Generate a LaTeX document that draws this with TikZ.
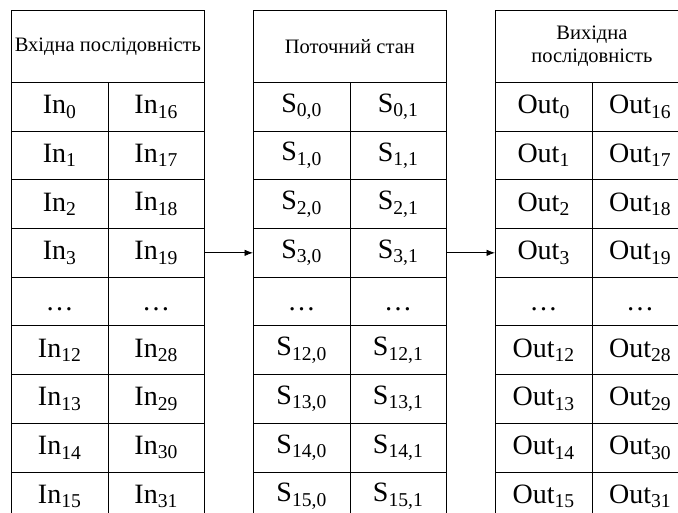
\documentclass[tikz,border=0pt]{standalone}
\usepackage{fontspec}
\setmainfont{Liberation Serif}
\usetikzlibrary{arrows.meta,positioning}

\newcommand{\insym}[1]{In\textsubscript{#1}}
\newcommand{\outsym}[1]{Out\textsubscript{#1}}
\newcommand{\stsym}[1]{S\textsubscript{#1}}
\newcommand{\skiprow}{\vphantom{I}\ldots}

\tikzset{
  head/.style={draw, anchor=north west, minimum width=193pt, minimum height=72pt,
    inner sep=0pt, align=center, font=\fontsize{20.5}{23}\selectfont},
  cell/.style={draw, anchor=north west, minimum width=96.5pt, minimum height=48.7pt,
    inner sep=0pt, font=\fontsize{28}{30}\selectfont},
}

\begin{document}
\begin{tikzpicture}[x=1pt,y=1pt,>={Latex[length=8.5pt,width=6.5pt]},line width=0.8pt]
  \useasboundingbox (0,0) rectangle (678,-513);
  \clip (0,0) rectangle (678,-513);
  % headers
  \node[head] (inhead) at (11,-10) {Вхідна послідовність};
  \node[head] (sthead) at (253,-10) {Поточний стан};
  \node[head] (outhead) at (495,-10) {Вихідна\\послідовність};
  % rows
  \foreach \r/\a/\b in {0/0/16,1/1/17,2/2/18,3/3/19,5/12/28,6/13/29,7/14/30,8/15/31}{
    \node[cell] (in-\r-0) at (11,-82-48.7*\r) {\insym{\a}};
    \node[cell] (in-\r-1) at (107.5,-82-48.7*\r) {\insym{\b}};
    \node[cell] (st-\r-0) at (253,-82-48.7*\r) {\stsym{\a,0}};
    \node[cell] (st-\r-1) at (349.5,-82-48.7*\r) {\stsym{\a,1}};
    \node[cell] (out-\r-0) at (495,-82-48.7*\r) {\outsym{\a}};
    \node[cell] (out-\r-1) at (591.5,-82-48.7*\r) {\outsym{\b}};
  }
  % skipped rows
  \node[cell] (in-4-0) at (11,-276.8) {\skiprow};
  \node[cell] (in-4-1) at (107.5,-276.8) {\skiprow};
  \node[cell] (st-4-0) at (253,-276.8) {\skiprow};
  \node[cell] (st-4-1) at (349.5,-276.8) {\skiprow};
  \node[cell] (out-4-0) at (495,-276.8) {\skiprow};
  \node[cell] (out-4-1) at (591.5,-276.8) {\skiprow};
  % flow
  \draw[->] (in-3-1.east) -- (st-3-0.west);
  \draw[->] (st-3-1.east) -- (out-3-0.west);
\end{tikzpicture}
\end{document}
